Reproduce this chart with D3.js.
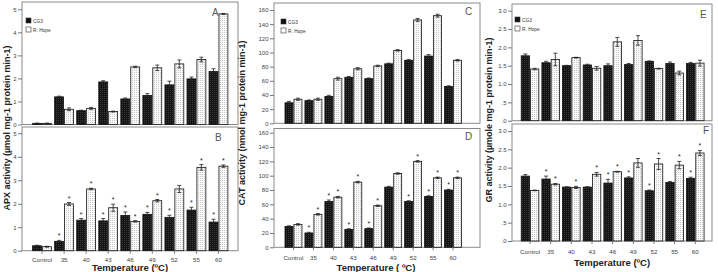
<!DOCTYPE html>
<html>
<head>
<meta charset="utf-8">
<script src="https://cdn.jsdelivr.net/npm/d3@7"></script>
<style>
  body { margin: 0; background: #fff; }
  svg { display: block; font-family: "Liberation Sans", Arial, sans-serif; }
</style>
</head>
<body>
<svg width="718" height="272"></svg>
<script>
const d3 = window.d3

// categories
const temps = ['Control', '35', '40', '43', '46', '49', '52', '55', '60']
const seriesNames = ['CG3', 'R. Hope']

// APX (µmol mg-1 protein min-1)
const apxA_cg3 = [0.05, 1.2, 0.6, 1.85, 1.11, 1.26, 1.72, 1.98, 2.3]
const apxA_cg3Err = [0.01, 0.03, 0.02, 0.05, 0.04, 0.08, 0.16, 0.08, 0.12]
const apxA_rh = [0.05, 0.66, 0.7, 0.56, 2.5, 2.46, 2.63, 2.82, 4.8]
const apxA_rhErr = [0.01, 0.06, 0.04, 0.02, 0.03, 0.12, 0.17, 0.1, 0.02]
const apxB_cg3 = [0.21, 0.4, 1.3, 1.27, 1.5, 1.55, 1.42, 1.73, 1.22]
const apxB_cg3Err = [0.02, 0.04, 0.07, 0.1, 0.15, 0.08, 0.09, 0.12, 0.12]
const apxB_rh = [0.17, 1.99, 2.63, 1.83, 1.25, 2.13, 2.63, 3.55, 3.6]
const apxB_rhErr = [0.02, 0.06, 0.03, 0.15, 0.03, 0.05, 0.15, 0.12, 0.05]
const apxB_cg3Star = [0, 1, 1, 1, 1, 1, 1, 1, 1]
const apxB_rhStar = [0, 1, 1, 1, 1, 1, 0, 1, 1]
const apxTicks = [0, 1, 2, 3, 4, 5]
const apxTickLabels = ['0', '1', '2', '3', '4', '5']

// CAT (nmol mg-1 protein min-1)
const catC_cg3 = [29, 32, 38, 65, 63, 84, 89, 95, 52]
const catC_cg3Err = [2, 1, 1.5, 1, 1, 1, 1, 2, 1]
const catC_rh = [34, 34, 63, 77, 81, 103, 146, 152, 89]
const catC_rhErr = [1.5, 1.5, 2, 1.5, 1, 1, 2, 2, 1]
const catD_cg3 = [29, 20, 64, 25, 26, 84, 64, 71, 80]
const catD_cg3Err = [1, 1, 2, 1, 1, 1, 1, 1, 1]
const catD_rh = [32, 46, 70, 91, 58, 103, 120, 97, 97]
const catD_rhErr = [1, 1, 1, 1, 1, 1, 1, 1, 1]
const catD_cg3Star = [0, 1, 1, 1, 1, 0, 1, 1, 1]
const catD_rhStar = [0, 1, 1, 1, 1, 0, 1, 1, 1]
const catTicks = [0, 20, 40, 60, 80, 100, 120, 140, 160]
const catTickLabels = ['0', '20', '40', '60', '80', '100', '120', '140', '160']

// GR (µmole mg-1 protein min-1)
const grE_cg3 = [1.77, 1.58, 1.5, 1.52, 1.5, 1.53, 1.62, 1.56, 1.56]
const grE_cg3Err = [0.05, 0.04, 0.01, 0.02, 0.05, 0.03, 0.01, 0.04, 0.03]
const grE_rh = [1.41, 1.67, 1.72, 1.43, 2.15, 2.19, 1.42, 1.3, 1.57]
const grE_rhErr = [0.02, 0.17, 0.01, 0.05, 0.12, 0.13, 0.01, 0.05, 0.08]
const grF_cg3 = [1.77, 1.69, 1.47, 1.47, 1.58, 1.72, 1.37, 1.6, 1.71]
const grF_cg3Err = [0.04, 0.08, 0.01, 0.01, 0.1, 0.03, 0.02, 0.02, 0.03]
const grF_rh = [1.38, 1.55, 1.46, 1.82, 1.89, 2.13, 2.1, 2.07, 2.4]
const grF_rhErr = [0.01, 0.02, 0.03, 0.05, 0.01, 0.12, 0.15, 0.1, 0.07]
const grF_cg3Star = [0, 1, 0, 0, 1, 1, 1, 0, 1]
const grF_rhStar = [0, 1, 1, 1, 1, 0, 1, 1, 1]
const grTicks = [0, 0.5, 1, 1.5, 2, 2.5, 3]
const grTickLabels = ['.0', '.5', '1.0', '1.5', '2.0', '2.5', '3.0']

const svg = d3.select('svg')

// stipple textures for the bars
const defs = svg.append('defs')
const dark = defs.append('pattern').attr('id', 'dark')
  .attr('width', 2).attr('height', 2).attr('patternUnits', 'userSpaceOnUse')
dark.append('rect').attr('width', 2).attr('height', 2).attr('fill', '#141414')
dark.append('rect').attr('width', 1).attr('height', 1).attr('fill', '#3a3a3a')
const light = defs.append('pattern').attr('id', 'light')
  .attr('width', 2).attr('height', 2).attr('patternUnits', 'userSpaceOnUse')
light.append('rect').attr('width', 2).attr('height', 2).attr('fill', '#fafafa')
light.append('rect').attr('width', 1).attr('height', 1).attr('fill', '#c8c8c8')

// one column per enzyme
const columns = [
  {
    left: 22, right: 238, band: [31, 229.5], max: 5, ticks: apxTicks, tickLabels: apxTickLabels,
    yTitle: 'APX activity (µmol mg-1 protein min-1)', yTitleX: 8, yTitleY: 128,
    xLabelY: 260, xTitle: 'Temperature (ºC)', xTitleX: 130, xTitleY: 271,
    legend: [26, 18],
    panels: [
      { top: 2, y0: 124.5, yMax: 9.3, letter: 'A', lx: 212, ly: 16, cg3: apxA_cg3, cg3Err: apxA_cg3Err, rh: apxA_rh, rhErr: apxA_rhErr },
      { top: 127, y0: 250.7, yMax: 133.3, letter: 'B', lx: 215, ly: 141, cg3: apxB_cg3, cg3Err: apxB_cg3Err, rh: apxB_rh, rhErr: apxB_rhErr, cg3Star: apxB_cg3Star, rhStar: apxB_rhStar },
    ],
  },
  {
    left: 274, right: 480, band: [283.5, 463], max: 160, ticks: catTicks, tickLabels: catTickLabels,
    yTitle: 'CAT activity (nmol mg-1 protein min-1)', yTitleX: 243, yTitleY: 123,
    xLabelY: 258, xTitle: 'Temperature ( ºC)', xTitleX: 376, xTitleY: 271,
    legend: [281, 19],
    panels: [
      { top: 3, y0: 123.3, yMax: 10, letter: 'C', lx: 465, ly: 15, cg3: catC_cg3, cg3Err: catC_cg3Err, rh: catC_rh, rhErr: catC_rhErr },
      { top: 128.5, y0: 247.3, yMax: 132.7, letter: 'D', lx: 465, ly: 140, cg3: catD_cg3, cg3Err: catD_cg3Err, rh: catD_rh, rhErr: catD_rhErr, cg3Star: catD_cg3Star, rhStar: catD_rhStar },
    ],
  },
  {
    left: 512, right: 712, band: [519.7, 705.6], max: 3, ticks: grTicks, tickLabels: grTickLabels,
    yTitle: 'GR activity (µmole mg-1 protein min-1)', yTitleX: 490, yTitleY: 120,
    xLabelY: 252, xTitle: 'Temperature (ºC)', xTitleX: 612, xTitleY: 266,
    legend: [515, 17],
    panels: [
      { top: 4, y0: 120.7, yMax: 10.7, letter: 'E', lx: 700, ly: 18, cg3: grE_cg3, cg3Err: grE_cg3Err, rh: grE_rh, rhErr: grE_rhErr },
      { top: 124, y0: 241, yMax: 131, letter: 'F', lx: 703, ly: 134, cg3: grF_cg3, cg3Err: grF_cg3Err, rh: grF_rh, rhErr: grF_rhErr, cg3Star: grF_cg3Star, rhStar: grF_rhStar },
    ],
  },
]

const drawPanel = (col, p, isBottom) => {
  const x = d3.scaleBand().domain(temps).range(col.band).paddingInner(0.1).paddingOuter(0.05)
  const xs = d3.scaleBand().domain(seriesNames).range([0, x.bandwidth()])
  const y = d3.scaleLinear().domain([0, col.max]).range([p.y0, p.yMax])
  const g = svg.append('g')

  g.append('rect')
    .attr('x', col.left).attr('y', p.top)
    .attr('width', col.right - col.left).attr('height', p.y0 - p.top)
    .attr('fill', '#fff').attr('stroke', '#8a8a8a').attr('stroke-width', 1)

  const series = [
    { name: 'CG3', vals: p.cg3, err: p.cg3Err, star: p.cg3Star, fill: 'url(#dark)' },
    { name: 'R. Hope', vals: p.rh, err: p.rhErr, star: p.rhStar, fill: 'url(#light)' },
  ]

  series.forEach((s) => {
    const rows = temps.map((t, i) => ({ t, v: s.vals[i], e: s.err[i], star: s.star ? s.star[i] : 0 }))
    const bx = (d) => x(d.t) + xs(s.name)
    const bw = xs.bandwidth()

    g.selectAll(null).data(rows).join('rect')
      .attr('x', (d) => bx(d) + 0.5)
      .attr('y', (d) => y(d.v))
      .attr('width', bw - 1)
      .attr('height', (d) => y(0) - y(d.v))
      .attr('fill', s.fill)
      .attr('stroke', '#111').attr('stroke-width', 0.8)

    // error bars
    const eb = g.selectAll(null).data(rows).join('g')
      .attr('stroke', '#222').attr('stroke-width', 0.8)
    eb.append('line')
      .attr('x1', (d) => bx(d) + bw / 2).attr('x2', (d) => bx(d) + bw / 2)
      .attr('y1', (d) => y(d.v - d.e)).attr('y2', (d) => y(d.v + d.e))
    eb.append('line')
      .attr('x1', (d) => bx(d) + bw / 2 - 2).attr('x2', (d) => bx(d) + bw / 2 + 2)
      .attr('y1', (d) => y(d.v + d.e)).attr('y2', (d) => y(d.v + d.e))
    eb.append('line')
      .attr('x1', (d) => bx(d) + bw / 2 - 2).attr('x2', (d) => bx(d) + bw / 2 + 2)
      .attr('y1', (d) => y(d.v - d.e)).attr('y2', (d) => y(d.v - d.e))

    g.selectAll(null).data(rows.filter((d) => d.star)).join('text')
      .attr('x', (d) => bx(d) + bw / 2)
      .attr('y', (d) => y(d.v + d.e) - 2)
      .attr('text-anchor', 'middle')
      .attr('font-size', 7)
      .attr('fill', '#222')
      .text('*')
  })

  // y axis
  const ya = g.append('g')
    .attr('transform', `translate(${col.left},0)`)
    .call(d3.axisLeft(y).tickValues(col.ticks).tickFormat((d, i) => col.tickLabels[i]).tickSize(4).tickPadding(1.5))
  ya.select('.domain').remove()
  ya.selectAll('line').attr('stroke', '#777')
  ya.selectAll('text').attr('font-size', 6).attr('fill', '#444').attr('font-family', null)

  // x axis (labels only in the lower panel)
  if (isBottom) {
    const xa = g.append('g')
      .attr('transform', `translate(0,${p.y0})`)
      .call(d3.axisBottom(x).tickSize(3).tickSizeOuter(0).tickPadding(col.xLabelY - p.y0 - 5))
    xa.select('.domain').remove()
    xa.selectAll('line').attr('stroke', '#777')
    xa.selectAll('text').attr('font-size', 6.2).attr('fill', '#444').attr('font-family', null)
  }

  g.append('text')
    .attr('x', p.lx).attr('y', p.ly)
    .attr('font-size', 10).attr('fill', '#555')
    .text(p.letter)
}

columns.forEach((col) => {
  // rotated y title sits behind the panels
  svg.append('text')
    .attr('transform', `translate(${col.yTitleX},${col.yTitleY}) rotate(-90)`)
    .attr('text-anchor', 'middle').attr('dominant-baseline', 'middle')
    .attr('font-size', 9).attr('font-weight', 'bold').attr('fill', '#222')
    .text(col.yTitle)

  col.panels.forEach((p, i) => drawPanel(col, p, i === 1))

  // legend in the top panel
  const [lx, ly] = col.legend
  const leg = svg.append('g').attr('transform', `translate(${lx},${ly})`)
  seriesNames.forEach((name, i) => {
    leg.append('rect')
      .attr('x', 0).attr('y', i * 9)
      .attr('width', 5).attr('height', 5)
      .attr('fill', i === 0 ? '#111' : '#fff').attr('stroke', '#333').attr('stroke-width', 0.6)
    leg.append('text')
      .attr('x', 7).attr('y', i * 9 + 4.5)
      .attr('font-size', 4.8).attr('fill', '#333')
      .text(name)
  })

  svg.append('text')
    .attr('x', col.xTitleX).attr('y', col.xTitleY)
    .attr('text-anchor', 'middle')
    .attr('font-size', 9.5).attr('font-weight', 'bold').attr('fill', '#222')
    .text(col.xTitle)
})
</script>
</body>
</html>
